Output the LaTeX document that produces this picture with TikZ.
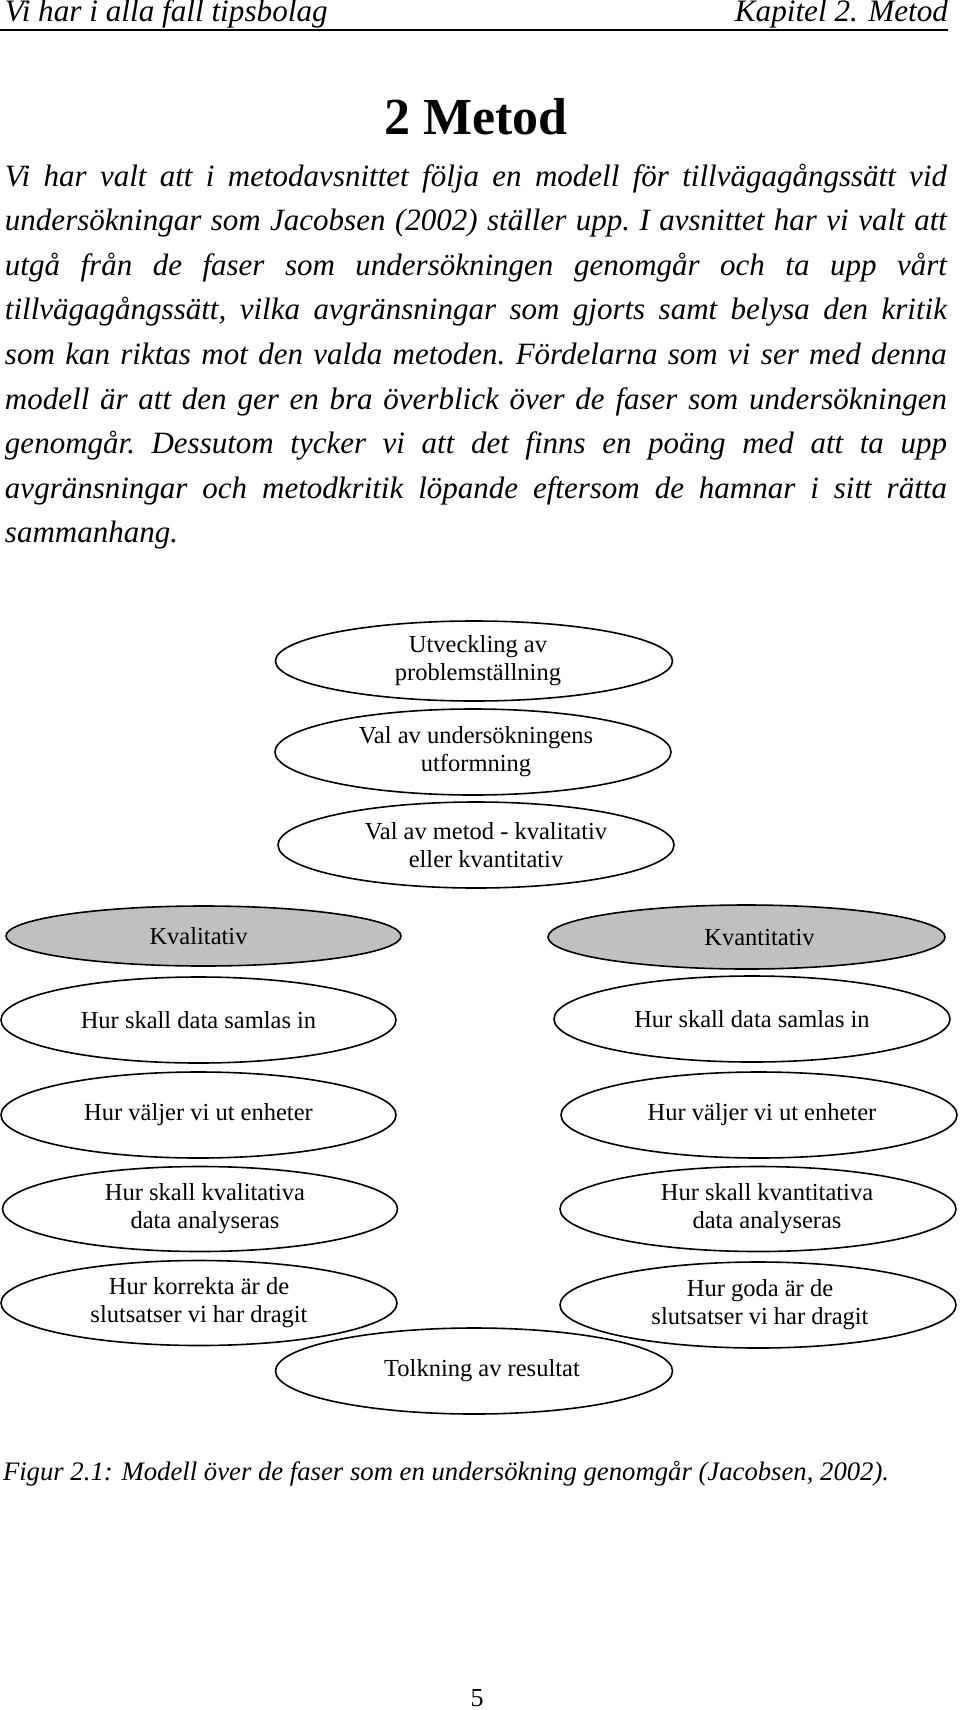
\documentclass[tikz,border=0pt]{standalone}
\usepackage{fontspec}
\setmainfont{Liberation Serif}
\usetikzlibrary{shapes.geometric}
\tikzset{
  oval/.style={ellipse, draw=black, line width=1.6pt, fill=white, inner sep=0pt,
    align=center, font=\fontsize{24.5}{28}\selectfont},
  greyoval/.style={oval, fill=ovalgrey},
  txt/.style={inner sep=0pt, outer sep=0pt},
}
\definecolor{ovalgrey}{RGB}{192,192,192}
\newcommand{\txshift}[1]{\hspace*{#1}}
\begin{document}
\begin{tikzpicture}[x=1pt,y=-1pt]
\useasboundingbox (0,0) rectangle (960,1710);
% header
\node[txt, anchor=base west, font=\fontsize{31.2}{36}\selectfont\itshape] (hl) at (5,22) {Vi har i alla fall tipsbolag};
\node[txt, anchor=base east, font=\fontsize{31.2}{36}\selectfont\itshape] (hr) at (948,22) {Kapitel 2. Metod};
\coordinate (rulel) at (0,30);
\coordinate (ruler) at (948,30);
\draw[line width=2.5pt] (rulel) -- (ruler);
% title
\node[txt, anchor=base, font=\fontsize{52}{60}\selectfont\bfseries] (title) at (476,134) {2 Metod};
% body
\node[txt, anchor=base west] (body) at (5,186) {\parbox[t]{942pt}{\fontsize{31}{44.6}\selectfont\itshape\frenchspacing
\tolerance=10000\hyphenpenalty=10000\emergencystretch=20pt
Vi har valt att i metodavsnittet följa en modell för tillvägagångssätt vid\linebreak
undersökningar som Jacobsen (2002) ställer upp. I avsnittet har vi valt att\linebreak
utgå från de faser som undersökningen genomgår och ta upp vårt\linebreak
tillvägagångssätt, vilka avgränsningar som gjorts samt belysa den kritik\linebreak
som kan riktas mot den valda metoden. Fördelarna som vi ser med denna\linebreak
modell är att den ger en bra överblick över de faser som undersökningen\linebreak
genomgår. Dessutom tycker vi att det finns en poäng med att ta upp\linebreak
avgränsningar och metodkritik löpande eftersom de hamnar i sitt rätta\linebreak
sammanhang.}};
% diagram
\node[oval, minimum width=397pt, minimum height=80pt] (e1) at (474,661) {\txshift{8pt}Utveckling av\\\txshift{8pt}problemställning};
\node[oval, minimum width=396pt, minimum height=86pt] (e2) at (473,752) {\txshift{6pt}Val av undersökningens\\\txshift{6pt}utformning};
\node[oval, minimum width=396pt, minimum height=86pt] (e3) at (476,845) {\txshift{20pt}Val av metod - kvalitativ\\\txshift{20pt}eller kvantitativ};
\node[greyoval, minimum width=395pt, minimum height=60pt] (kl) at (203.5,936) {Kvalitativ\txshift{10pt}};
\node[greyoval, minimum width=397pt, minimum height=64pt] (kr) at (746.5,937) {\txshift{26pt}Kvantitativ};
\node[oval, minimum width=395pt, minimum height=86pt] (l1) at (198.5,1020) {Hur skall data samlas in};
\node[oval, minimum width=396pt, minimum height=86pt] (r1) at (752,1019) {Hur skall data samlas in};
\node[oval, minimum width=395pt, minimum height=86pt] (l2) at (198.5,1115) {Hur väljer vi ut enheter};
\node[oval, minimum width=396pt, minimum height=86pt] (r2) at (759,1115) {\txshift{6pt}Hur väljer vi ut enheter};
\node[oval, minimum width=395pt, minimum height=85pt] (l3) at (200,1209) {\txshift{10pt}Hur skall kvalitativa\\\txshift{10pt}data analyseras};
\node[oval, minimum width=396pt, minimum height=85pt] (r3) at (758,1209) {\txshift{18pt}Hur skall kvantitativa\\\txshift{18pt}data analyseras};
\node[oval, minimum width=396pt, minimum height=85pt] (l4) at (199,1303) {Hur korrekta är de\\slutsatser vi har dragit};
\node[oval, minimum width=396pt, minimum height=86pt] (r4) at (758,1305) {\txshift{4pt}Hur goda är de\\\txshift{4pt}slutsatser vi har dragit};
\node[oval, minimum width=397pt, minimum height=86pt] (tolk) at (474,1371) {\txshift{16pt}Tolkning av resultat};
% caption
\node[txt, anchor=base west, font=\fontsize{26.7}{32}\selectfont\itshape] (cap) at (3,1480) {Figur 2.1: Modell över de faser som en undersökning genomgår (Jacobsen, 2002).};
\node[txt, anchor=base, font=\fontsize{26}{30}\selectfont] (pnum) at (477,1706) {5};
\end{tikzpicture}
\end{document}
